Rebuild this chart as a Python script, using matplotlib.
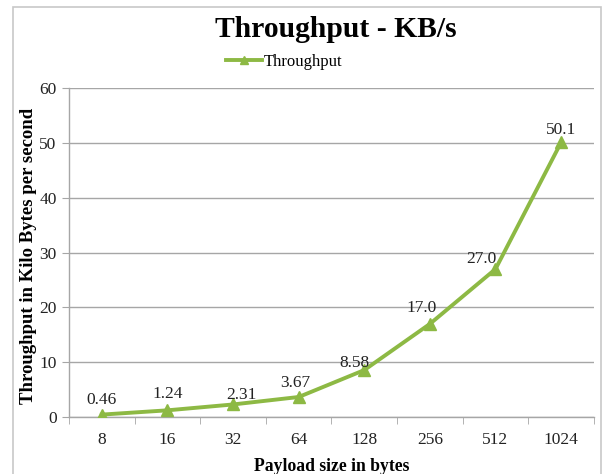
import matplotlib.pyplot as plt
from matplotlib.patches import Rectangle

# payload sizes (bytes) and throughput in KB/s
payload = ['8', '16', '32', '64', '128', '256', '512', '1024']
throughput = [0.46, 1.24, 2.31, 3.67, 8.58, 17.0, 27.0, 50.1]
labels = ['0.46', '1.24', '2.31', '3.67', '8.58', '17.0', '27.0', '50.1']

plt.rcParams['font.family'] = ['Liberation Serif', 'DejaVu Serif']

green = '#8DB944'
grid_gray = '#A6A6A6'

fig = plt.figure(figsize=(6.06, 4.74), dpi=100)
ax = fig.add_axes([0.114, 0.12, 0.866, 0.694])

# outer chart frame
fig.patches.append(Rectangle((13 / 606, -0.05), 588 / 606, 1.05 - 7 / 474,
                             transform=fig.transFigure, fill=False,
                             edgecolor='#C8C8C8', linewidth=1.2))

x = list(range(len(payload)))
ax.plot(x, throughput, color=green, linewidth=2.8, marker='^',
        markersize=9, markerfacecolor=green, markeredgecolor=green,
        label='Throughput', zorder=3)

# label placement (pixels relative to the point), as in the original
shift = [(0, 15), (0, 16), (8, 9), (-3, 14), (-10, 7), (-8, 16), (-14, 10), (0, 12)]
for xi, yi, t, (dx, dy) in zip(x, throughput, labels, shift):
    ax.annotate(t, (xi, yi), xytext=(dx * 0.72, dy * 0.72),
                textcoords='offset points', ha='center', va='center',
                fontsize=12.5, color='#222222')

ax.set_xlim(-0.5, len(payload) - 0.5)
ax.set_ylim(0, 60)
ax.set_yticks(range(0, 61, 10))
ax.set_xticks(x)
ax.set_xticklabels(payload)
ax.set_xticks([i + 0.5 for i in range(-1, len(payload))], minor=True)
ax.tick_params(axis='x', which='major', length=0, pad=11, labelsize=12.5,
               labelcolor='#222222')
ax.tick_params(axis='x', which='minor', length=5, color=grid_gray,
               direction='out')
ax.tick_params(axis='y', length=5, color=grid_gray, labelsize=12.5,
               labelcolor='#222222', pad=4)

ax.grid(axis='y', color=grid_gray, linewidth=1)
ax.set_axisbelow(True)
for s in ['top', 'right']:
    ax.spines[s].set_visible(False)
for s in ['left', 'bottom']:
    ax.spines[s].set_color(grid_gray)
    ax.spines[s].set_linewidth(1)

ax.set_xlabel('Payload size in bytes', fontsize=12.7, fontweight='bold',
              labelpad=7)
ax.set_ylabel('Throughput in Kilo Bytes per second', fontsize=13.5,
              fontweight='bold')
ax.yaxis.set_label_coords(-0.061, 0.49)

fig.text(0.554, 0.937, 'Throughput - KB/s', ha='center', va='center',
         fontsize=21.3, fontweight='bold')
ax.legend(loc='center', bbox_to_anchor=(0.41, 1.08), frameon=False,
          fontsize=12, handlelength=2.2, handletextpad=0.1,
          markerscale=0.7, borderaxespad=0)

plt.savefig('out.png', dpi=100)
